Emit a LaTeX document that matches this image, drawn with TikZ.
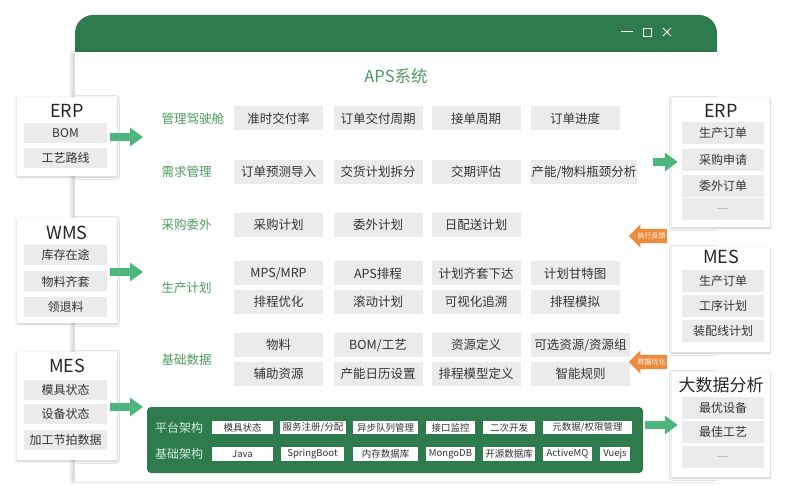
\documentclass[tikz,border=0pt]{standalone}
\usepackage{fontspec}
\setmainfont{Noto Sans CJK SC}
\usepackage{tikz}
\usetikzlibrary{arrows.meta,shapes.arrows,shadows.blur}

\definecolor{barGreen}{HTML}{2E7B4E}
\definecolor{arrowGreen}{HTML}{4DB67C}
\definecolor{labelGreen}{HTML}{4C9C5E}
\definecolor{cellGray}{HTML}{EBEBEB}
\definecolor{textGray}{HTML}{333333}
\definecolor{feedOrange}{HTML}{EE8A3C}

\tikzset{
	sysbox/.style={fill=white, minimum width=100, blur shadow={shadow xshift=0pt, shadow yshift=-1pt, shadow blur steps=6, shadow opacity=22}},
	systitle/.style={font=\fontsize{18}{20}\selectfont, text=black!85},
	sysitem/.style={fill=cellGray, minimum width=83, minimum height=20, inner sep=0, font=\fontsize{12}{14}\selectfont, text=textGray},
	cell/.style={fill=cellGray, minimum width=89, minimum height=24, inner sep=0, font=\fontsize{12.5}{14}\selectfont, text=textGray},
	catlabel/.style={anchor=west, font=\fontsize{12.5}{14}\selectfont, text=labelGreen},
	platitem/.style={fill=white, minimum height=13, inner sep=0, font=\fontsize{9.5}{11}\selectfont, text=textGray},
	platlabel/.style={font=\fontsize{12}{14}\selectfont, text=white!75!arrowGreen},
	greenarrow/.style={draw=arrowGreen, line width=8pt, -{Triangle[width=18pt,length=13pt]}},
	feedarrow/.style={single arrow, shape border rotate=180, fill=feedOrange, minimum height=38, minimum width=23, single arrow head extend=4pt, inner xsep=1.2pt, inner ysep=3pt, font=\fontsize{7}{8}\selectfont, text=white}
}

\begin{document}
\begin{tikzpicture}[x=1pt, y=-1pt]
			%%%%% START %%%%%
			\useasboundingbox (0,0) rectangle (787,486);
			
			% window
			\fill[barGreen, rounded corners=18] (75,15) rectangle (717,75);
			\fill[white, blur shadow={shadow xshift=-4pt, shadow yshift=0pt, shadow blur steps=8, shadow opacity=15}] (75,52) rectangle (717,482);
			\draw[white, line width=1] (621,32) -- (633,32);
			\draw[white, line width=0.9] (643,28) rectangle (651,36);
			\draw[white, line width=0.9] (663,28) -- (671,36) (663,36) -- (671,28);
			\node[font=\fontsize{16.5}{18}\selectfont, text=labelGreen] (title) at (396,76) {APS系统};
			
			% categories
			\node[catlabel] (catCockpit) at (158,118.5) {管理驾驶舱};
			\node[catlabel] (catDemand) at (158,172) {需求管理};
			\node[catlabel] (catPurchase) at (158,225) {采购委外};
			\node[catlabel] (catProd) at (158,288) {生产计划};
			\node[catlabel] (catBase) at (158,360) {基础数据};
			
			\node[cell] (c11) at (278.5,118.5) {准时交付率};
			\node[cell] (c12) at (378,118.5) {订单交付周期};
			\node[cell] (c13) at (476,118.5) {接单周期};
			\node[cell] (c14) at (575,118.5) {订单进度};
			
			\node[cell] (c21) at (278.5,172) {订单预测导入};
			\node[cell] (c22) at (378,172) {交货计划拆分};
			\node[cell] (c23) at (476,172) {交期评估};
			\node[cell, minimum width=106] (c24) at (584,172) {产能/物料瓶颈分析};
			
			\node[cell] (c31) at (278.5,225) {采购计划};
			\node[cell] (c32) at (378,225) {委外计划};
			\node[cell] (c33) at (476,225) {日配送计划};
			
			\node[cell] (c41) at (278.5,273.5) {MPS/MRP};
			\node[cell] (c42) at (378,273.5) {APS排程};
			\node[cell] (c43) at (476,273.5) {计划齐套下达};
			\node[cell] (c44) at (575,273.5) {计划甘特图};
			\node[cell] (c51) at (278.5,302) {排程优化};
			\node[cell] (c52) at (378,302) {滚动计划};
			\node[cell] (c53) at (476,302) {可视化追溯};
			\node[cell] (c54) at (575,302) {排程模拟};
			
			\node[cell] (c61) at (278.5,345) {物料};
			\node[cell] (c62) at (378,345) {BOM/工艺};
			\node[cell] (c63) at (476,345) {资源定义};
			\node[cell, minimum width=99] (c64) at (580.5,345) {可选资源/资源组};
			\node[cell] (c71) at (278.5,374) {辅助资源};
			\node[cell] (c72) at (378,374) {产能日历设置};
			\node[cell] (c73) at (476,374) {排程模型定义};
			\node[cell, minimum width=99] (c74) at (580.5,374) {智能规则};
			
			% platform
			\node[fill=barGreen, rounded corners=4, minimum width=496, minimum height=66] (plat) at (395,440) {};
			\node[platlabel] (platTop) at (179,427.5) {平台架构};
			\node[platlabel] (platBase) at (179,454) {基础架构};
			\node[platitem, minimum width=61] (p11) at (242.5,427.5) {模具状态};
			\node[platitem, minimum width=66] (p12) at (313,427.5) {服务注册/分配};
			\node[platitem, minimum width=65] (p13) at (385.5,427.5) {异步队列管理};
			\node[platitem, minimum width=49] (p14) at (450.5,427.5) {接口监控};
			\node[platitem, minimum width=52] (p15) at (509,427.5) {二次开发};
			\node[platitem, minimum width=89] (p16) at (587.5,427.5) {元数据/权限管理};
			\node[platitem, minimum width=61, minimum height=14] (p21) at (242.5,454) {Java};
			\node[platitem, minimum width=63, minimum height=14] (p22) at (312.5,454) {SpringBoot};
			\node[platitem, minimum width=65, minimum height=14] (p23) at (385.5,454) {内存数据库};
			\node[platitem, minimum width=49, minimum height=14] (p24) at (450.5,454) {MongoDB};
			\node[platitem, minimum width=52, minimum height=14] (p25) at (509,454) {开源数据库};
			\node[platitem, minimum width=49, minimum height=14] (p26) at (567.5,454) {ActiveMQ};
			\node[platitem, minimum width=30, minimum height=14] (p27) at (615,454) {Vuejs};
			
			% left systems
			\node[sysbox, minimum height=79] (erpL) at (67,136.5) {};
			\node[systitle] at (67,111) {ERP};
			\node[sysitem] (erpBom) at (65.5,133) {BOM};
			\node[sysitem] (erpRoute) at (65.5,158) {工艺路线};
			
			\node[sysbox, minimum height=105] (wmsL) at (67,270.5) {};
			\node[systitle] at (67,233) {WMS};
			\node[sysitem] (wmsStock) at (65.5,255) {库存在途};
			\node[sysitem] (wmsKit) at (65.5,281.5) {物料齐套};
			\node[sysitem] (wmsPick) at (65.5,307) {领退料};
			
			\node[sysbox, minimum height=108] (mesL) at (67,406) {};
			\node[systitle] at (67,366) {MES};
			\node[sysitem] (mesMold) at (65.5,390) {模具状态};
			\node[sysitem] (mesDev) at (65.5,414) {设备状态};
			\node[sysitem] (mesBeat) at (65.5,440) {加工节拍数据};
			
			% right systems
			\node[sysbox, minimum width=98, minimum height=129] (erpR) at (721,162.5) {};
			\node[systitle] at (721,111) {ERP};
			\node[sysitem, minimum width=82, minimum height=22] (erpProd) at (723,133) {生产订单};
			\node[sysitem, minimum width=82, minimum height=22] (erpReq) at (723,160) {采购申请};
			\node[sysitem, minimum width=82, minimum height=22] (erpOut) at (723,186) {委外订单};
			\node[sysitem, minimum width=82, minimum height=22, font=\fontsize{7}{8}\selectfont] (erpMore) at (723,209) {......};
			
			\node[sysbox, minimum width=98, minimum height=105] (mesR) at (721,299.5) {};
			\node[systitle] at (721,257) {MES};
			\node[sysitem, minimum width=82, minimum height=22] (mesProd) at (723,281) {生产订单};
			\node[sysitem, minimum width=82, minimum height=22] (mesOp) at (723,306) {工序计划};
			\node[sysitem, minimum width=82, minimum height=22] (mesLine) at (723,331) {装配线计划};
			
			\node[sysbox, minimum width=98, minimum height=105] (bigR) at (721,424.5) {};
			\node[systitle, font=\fontsize{17}{19}\selectfont] at (721,385) {大数据分析};
			\node[sysitem, minimum width=82, minimum height=22] (bigDev) at (723,408) {最优设备};
			\node[sysitem, minimum width=82, minimum height=22] (bigProc) at (723,432) {最佳工艺};
			\node[sysitem, minimum width=82, minimum height=22, font=\fontsize{7}{8}\selectfont] (bigMore) at (723,457) {......};
			
			% arrows
			\coordinate (erpIn) at (143,137);
			\coordinate (wmsIn) at (143,272);
			\coordinate (mesIn) at (143,407);
			\coordinate (erpOutPt) at (653,162);
			\coordinate (bigOutPt) at (645,425);
			\draw[greenarrow] ([xshift=-7pt]erpL.east |- erpIn) -- (erpIn);
			\draw[greenarrow] ([xshift=-7pt]wmsL.east |- wmsIn) -- (wmsIn);
			\draw[greenarrow] ([xshift=-7pt]mesL.east |- mesIn) -- (mesIn);
			\draw[greenarrow] (erpOutPt) -- ([xshift=6pt]erpR.west |- erpOutPt);
			\draw[greenarrow] (bigOutPt) -- ([xshift=6pt]bigR.west |- bigOutPt);
			
			\node[feedarrow] (feedBack) at (651.5,236) {执行反馈};
			\node[feedarrow] (feedOpt) at (651.5,362) {数据优化};
			
			%%%%% END %%%%%
\end{tikzpicture}
\end{document}
